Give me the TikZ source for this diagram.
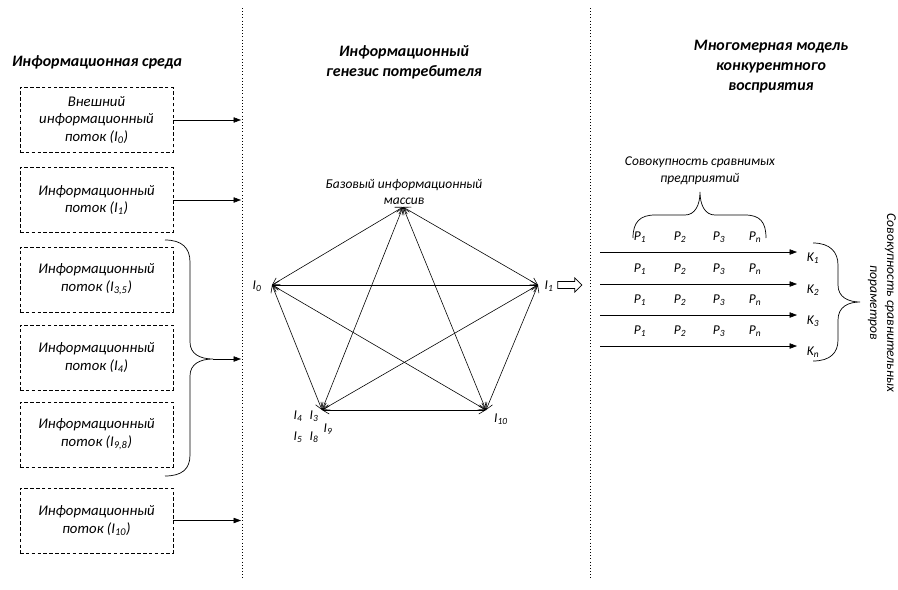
\documentclass[tikz,border=0pt]{standalone}
\usepackage{fontspec}
\setmainfont{Carlito}
\usepackage{tikz}
\usetikzlibrary{arrows.meta, positioning, shapes.arrows}

\begin{document}
\begin{tikzpicture}[
  x=0.03cm, y=-0.03cm,
  every node/.style={font=\itshape\fontsize{11.5}{14.5}\selectfont, align=center, inner sep=1pt},
  head/.style={font=\bfseries\itshape\fontsize{13.6}{17}\selectfont},
  flow/.style={draw, dash pattern=on 3pt off 2pt, line width=0.6pt,
               font=\itshape\fontsize{12.6}{15}\selectfont,
               minimum width=4.59cm, minimum height=1.95cm},
  arr/.style={-{Triangle[length=2.2mm, width=1.6mm]}, line width=0.5pt},
  link/.style={{Straight Barb[length=2mm, width=2.4mm]}-{Straight Barb[length=2mm, width=2.4mm]},
               line width=0.5pt},
  sep/.style={dotted, line width=0.7pt},
  brc/.style={line width=0.6pt},
  big/.style={draw, single arrow, line width=0.6pt, minimum height=0.72cm,
              minimum width=0.42cm, inner sep=0.09cm, single arrow head extend=0.1cm},
]
  \useasboundingbox (0,0) rectangle (898,589);

  \draw[sep] (242,8) -- (242,578);
  \draw[sep] (590,8) -- (590,578);

  % информационная среда
  \node[head] (envt) at (97,62) {Информационная среда};
  \node[flow] (f0) at (96.5,120) {Внешний\\информационный\\поток (I\textsubscript{0})};
  \node[flow] (f1) at (96.5,200) {Информационный\\поток (I\textsubscript{1})};
  \node[flow] (f35) at (96.5,279.5) {Информационный\\поток (I\textsubscript{3,5})};
  \node[flow] (f4) at (96.5,357.5) {Информационный\\поток (I\textsubscript{4})};
  \node[flow] (f98) at (96.5,434.5) {Информационный\\поток (I\textsubscript{9,8})};
  \node[flow] (f10) at (96.5,520.5) {Информационный\\поток (I\textsubscript{10})};

  \coordinate (in0) at (241,120);
  \coordinate (in1) at (241,200);
  \coordinate (inb) at (241,359);
  \coordinate (in10) at (241,520.5);
  \coordinate (btip) at (213,359);

  \draw[arr] (f0) -- (in0);
  \draw[arr] (f1) -- (in1);
  \draw[arr] (f10) -- (in10);
  \draw[brc] (165,240) .. controls (182,240) and (190,248) .. (190,262) -- (190,342)
     .. controls (190,354) and (200,359) .. (btip)
     .. controls (200,359) and (190,364) .. (190,376) -- (190,455)
     .. controls (190,469) and (182,476) .. (165,476);
  \draw[arr] (btip) -- (inb);

  % генезис
  \node[head] (gent) at (404,62) {Информационный\\генезис потребителя};
  \node (base) at (404,192) {Базовый информационный\\массив};

  \coordinate (vT) at (403,207);
  \coordinate (v0) at (272,285);
  \coordinate (v1) at (538,285);
  \coordinate (vL) at (322,410);
  \coordinate (vR) at (486,410);

  \foreach \a/\b in {vT/v0, vT/v1, vT/vL, vT/vR, v0/v1, v0/vL, v0/vR, v1/vL, v1/vR, vL/vR}
    \draw[link] (\a) -- (\b);

  \node (l0) at (257,286) {I\textsubscript{0}};
  \node (l1) at (549,286) {I\textsubscript{1}};
  \node (l10) at (501,419) {I\textsubscript{10}};
  \node (l4) at (298,416) {I\textsubscript{4}};
  \node (l3) at (314,416) {I\textsubscript{3}};
  \node (l9) at (328,429) {I\textsubscript{9}};
  \node (l5) at (298,437) {I\textsubscript{5}};
  \node (l8) at (314,437) {I\textsubscript{8}};

  \node[big] (out) at (568,285) {};

  % модель восприятия
  \node[head] (modt) at (771,67) {Многомерная модель\\конкурентного\\восприятия};
  \node (firms) at (700,171) {Совокупность сравнимых\\предприятий};
  \coordinate (ftip) at (700,192);
  \draw[brc] (633,238) .. controls (633,222) and (640,215) .. (655,215) -- (685,215)
     .. controls (695,215) and (700,205) .. (ftip)
     .. controls (700,205) and (705,215) .. (715,215) -- (745,215)
     .. controls (760,215) and (766,222) .. (766,238);

  \foreach \y/\k in {252/1, 284/2, 315/3, 346/n} {
    \coordinate (s\k) at (600,\y);
    \coordinate (e\k) at (797,\y);
    \draw[arr] (s\k) -- (e\k);
    \node (k\k) at (813,\y+6) {K\textsubscript{\k}};
    \foreach \x/\p in {640/1, 680/2, 719/3, 755/n}
      \node (p\k\p) at (\x,\y-15) {P\textsubscript{\p}};
  }

  \coordinate (ptip) at (860,302);
  \draw[brc] (813,243) .. controls (830,243) and (838,252) .. (838,265) -- (838,285)
     .. controls (838,297) and (848,302) .. (ptip)
     .. controls (848,302) and (838,307) .. (838,320) -- (838,340)
     .. controls (838,353) and (830,361) .. (813,361);
  \node[rotate=-90] (par) at (882,303) {Совокупность сравнительных\\пораметров};
\end{tikzpicture}
\end{document}
